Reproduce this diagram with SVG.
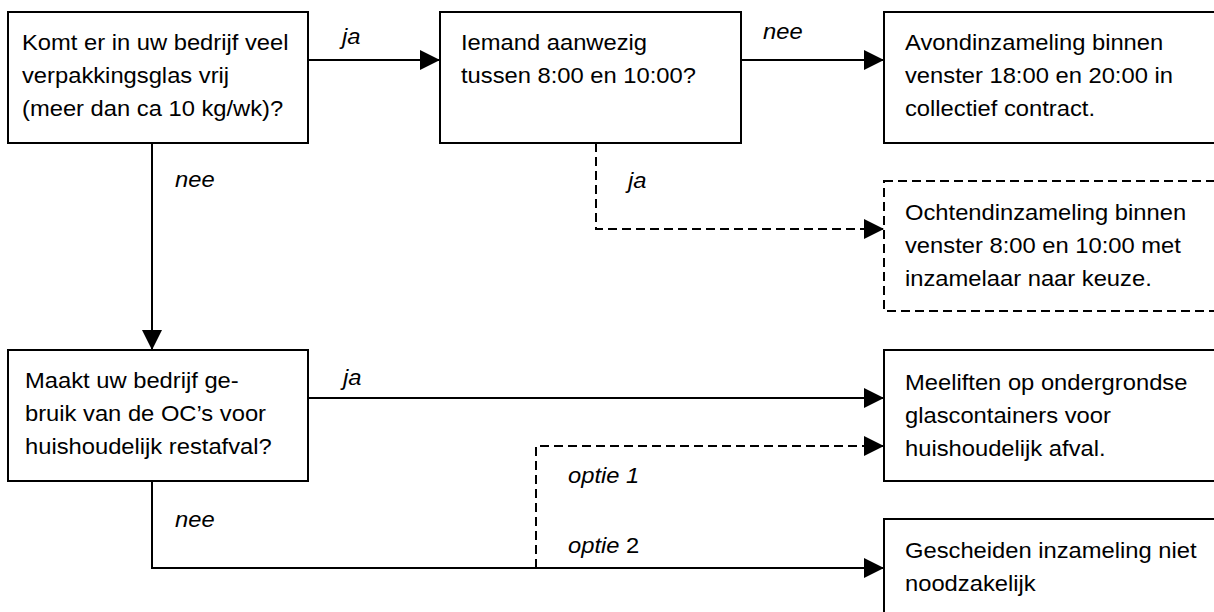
<svg xmlns="http://www.w3.org/2000/svg" width="1214" height="612" viewBox="0 0 1214 612">
<style>
.box{fill:#fff;stroke:#000;stroke-width:2}
.dbox{fill:#fff;stroke:#000;stroke-width:2;stroke-dasharray:9 5}
.t{font-family:"Liberation Sans",Arial,sans-serif;font-size:22px;fill:#000}
.lbl{font-family:"Liberation Sans",Arial,sans-serif;font-size:22px;font-style:italic;fill:#000}
.c{fill:none;stroke:#000;stroke-width:2}
.cd{fill:none;stroke:#000;stroke-width:2;stroke-dasharray:9 5}
</style>
<defs>
<marker id="ah" markerUnits="userSpaceOnUse" markerWidth="20" markerHeight="20" viewBox="0 0 20 20" refX="20" refY="10" orient="auto">
<path d="M0,0 L20,10 L0,20 Z" fill="#000"/>
</marker>
</defs>
<rect width="1214" height="612" fill="#fff"/>
<g id="connectors">
<path class="c" d="M308,60 H440" marker-end="url(#ah)"/>
<path class="c" d="M741,60 H884" marker-end="url(#ah)"/>
<path class="cd" d="M596,143 V229 H884" marker-end="url(#ah)"/>
<path class="c" d="M152,143 V350" marker-end="url(#ah)"/>
<path class="c" d="M308,398 H884" marker-end="url(#ah)"/>
<path class="c" d="M152,481 V568 H884" marker-end="url(#ah)"/>
<path class="cd" d="M536,568 V446 H884" marker-end="url(#ah)"/>
<text class="lbl" transform="translate(342 44) scale(1.08 1)">ja</text>
<text class="lbl" transform="translate(763 39) scale(1.08 1)">nee</text>
<text class="lbl" transform="translate(175 187) scale(1.08 1)">nee</text>
<text class="lbl" transform="translate(628 188) scale(1.08 1)">ja</text>
<text class="lbl" transform="translate(343 385) scale(1.08 1)">ja</text>
<text class="lbl" transform="translate(175 527) scale(1.08 1)">nee</text>
<text class="lbl" transform="translate(568 483) scale(1.08 1)">optie 1</text>
<text class="lbl" transform="translate(568 553) scale(1.08 1)">optie <tspan font-style="normal">2</tspan></text>
</g>
<g id="n1">
<rect class="box" x="8" y="12" width="300" height="131"/>
<text class="t" transform="translate(22 50) scale(1.08 1)"><tspan x="0" y="0">Komt er in uw bedrijf veel</tspan><tspan x="0" y="33">verpakkingsglas vrij</tspan><tspan x="0" y="66">(meer dan ca 10 kg/wk)?</tspan></text>
</g>
<g id="n2">
<rect class="box" x="440" y="12" width="301" height="131"/>
<text class="t" transform="translate(461 50) scale(1.08 1)"><tspan x="0" y="0">Iemand aanwezig</tspan><tspan x="0" y="33">tussen 8:00 en 10:00?</tspan></text>
</g>
<g id="n3">
<rect class="box" x="884" y="12" width="340" height="131"/>
<text class="t" transform="translate(905 50) scale(1.08 1)"><tspan x="0" y="0">Avondinzameling binnen</tspan><tspan x="0" y="33">venster 18:00 en 20:00 in</tspan><tspan x="0" y="66">collectief contract.</tspan></text>
</g>
<g id="n4">
<rect class="dbox" x="884" y="181" width="340" height="130"/>
<text class="t" transform="translate(905 220) scale(1.08 1)"><tspan x="0" y="0">Ochtendinzameling binnen</tspan><tspan x="0" y="33">venster 8:00 en 10:00 met</tspan><tspan x="0" y="66">inzamelaar naar keuze.</tspan></text>
</g>
<g id="n5">
<rect class="box" x="8" y="350" width="300" height="131"/>
<text class="t" transform="translate(25 388) scale(1.08 1)"><tspan x="0" y="0">Maakt uw bedrijf ge-</tspan><tspan x="0" y="33">bruik van de OC’s voor</tspan><tspan x="0" y="66">huishoudelijk restafval?</tspan></text>
</g>
<g id="n6">
<rect class="box" x="884" y="350" width="340" height="131"/>
<text class="t" transform="translate(905 390) scale(1.08 1)"><tspan x="0" y="0">Meeliften op ondergrondse</tspan><tspan x="0" y="33">glascontainers voor</tspan><tspan x="0" y="66">huishoudelijk afval.</tspan></text>
</g>
<g id="n7">
<rect class="box" x="884" y="519" width="340" height="110"/>
<text class="t" transform="translate(905 558) scale(1.08 1)"><tspan x="0" y="0">Gescheiden inzameling niet</tspan><tspan x="0" y="33">noodzakelijk</tspan></text>
</g>
</svg>
